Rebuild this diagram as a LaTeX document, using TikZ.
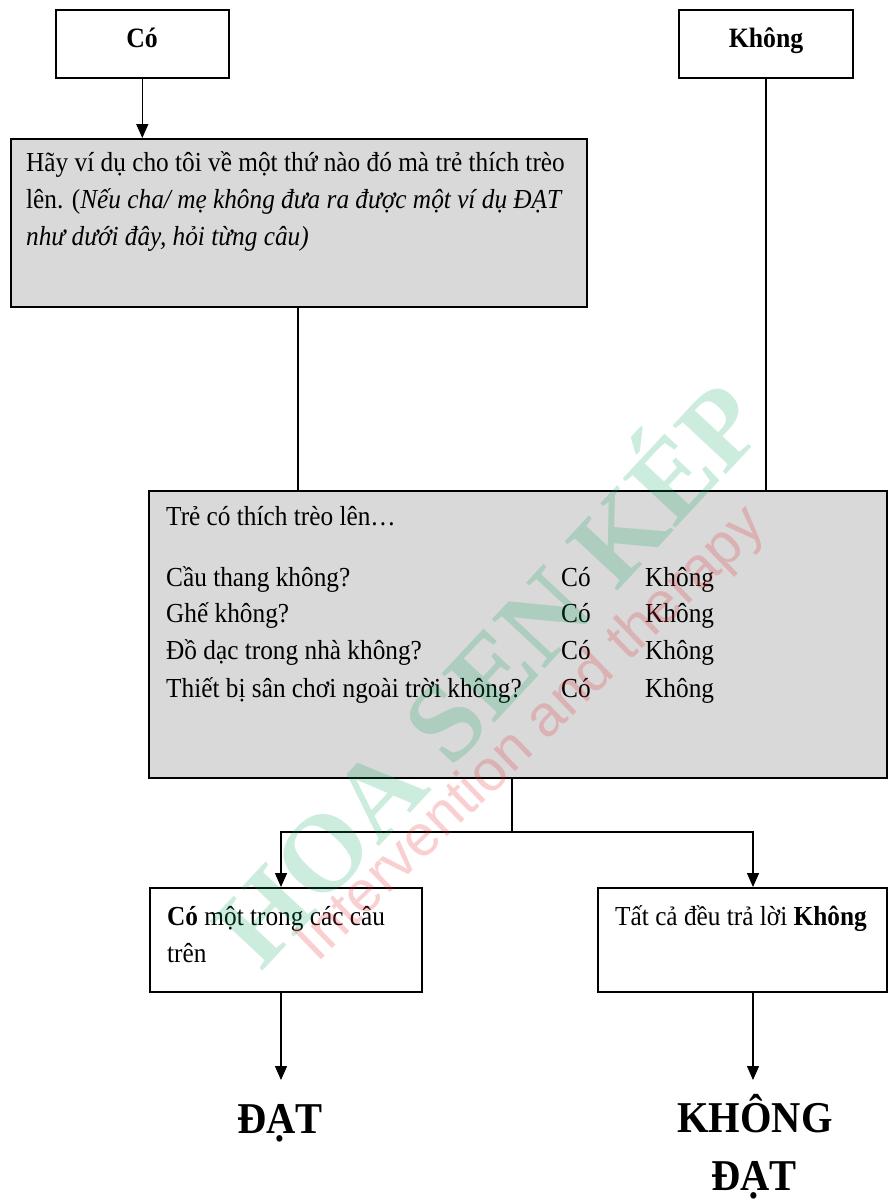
\documentclass[tikz,border=0pt]{standalone}
\usepackage{fontspec}
\setmainfont[FakeStretch=0.92]{Liberation Serif}
\newfontfamily\wmsans{Liberation Sans}
\newfontfamily\wmserif{Liberation Serif}
\usetikzlibrary{arrows.meta}
\definecolor{boxgray}{RGB}{217,217,217}
\definecolor{wmgreen}{RGB}{0,160,90}
\definecolor{wmred}{RGB}{230,40,50}
\begin{document}
\begin{tikzpicture}[x=1pt,y=-1pt,
  frame/.style={draw=black,line width=1.6pt,anchor=north west,inner sep=0pt},
  graybox/.style={frame,fill=boxgray},
  wire/.style={line width=1.4pt},
  arr/.style={wire,-{Triangle[length=14pt,width=12pt]}},
  body/.style={anchor=base west,inner sep=0pt,font=\fontsize{27.5}{37}\selectfont},
  title/.style={anchor=base,inner sep=0pt,font=\bfseries\fontsize{28}{30}\selectfont},
  big/.style={anchor=base,inner sep=0pt,font=\bfseries\fontsize{44}{58}\selectfont},
]
\useasboundingbox[fill=white] (0,0) rectangle (888,1200);

% boxes
\node[frame,minimum width=173pt,minimum height=68pt] (co) at (55,9) {};
\node[frame,minimum width=174pt,minimum height=68pt] (kh) at (678,9) {};
\node[graybox,minimum width=576pt,minimum height=168pt] (q1) at (10,138) {};
\node[graybox,minimum width=738pt,minimum height=287pt] (q2) at (148,490) {};
\node[frame,minimum width=272pt,minimum height=104pt] (r1) at (149,887) {};
\node[frame,minimum width=289pt,minimum height=104pt] (r2) at (597,887) {};

% titles
\node[title] (tco) at (142,47) {Có};
\node[title] (tkh) at (766,47) {Không};

% box 1 text
\node[body] (l1) at (26,171) {Hãy ví dụ cho tôi về một thứ nào đó mà trẻ thích trèo};
\node[body] (l2) at (26,208) {lên. (\textit{Nếu cha/ mẹ không đưa ra được một ví dụ ĐẠT}};
\node[body] (l3) at (26,245) {\textit{như dưới đây, hỏi từng câu)}};

% box 2 text
\node[body] (m0) at (166,525) {Trẻ có thích trèo lên…};
\node[body] (m1) at (166,586) {Cầu thang không?};
\node[body] (m2) at (166,622) {Ghế không?};
\node[body] (m3) at (166,659) {Đồ dạc trong nhà không?};
\node[body] (m4) at (166,697) {Thiết bị sân chơi ngoài trời không?};
\foreach \yy/\nm in {586/a,622/b,659/c,697/d}{
  \node[body] (c\nm) at (561,\yy) {Có};
  \node[body] (k\nm) at (645,\yy) {Không};
}

% box 3/4 text
\node[body] (n1) at (167,925) {\textbf{Có} một trong các câu};
\node[body] (n2) at (167,962) {trên};
\node[body] (p1) at (615,925) {Tất cả đều trả lời \textbf{Không}};

% results
\node[big] (dat) at (280,1133) {ĐẠT};
\node[big] (khong) at (755,1132) {KHÔNG};
\node[big] (dat2) at (754,1190) {ĐẠT};

% helper coordinates
\coordinate (xa) at (298,0);
\coordinate (jn) at (512,832);
\coordinate (xl) at (281,0);
\coordinate (xr) at (753,0);
\coordinate (e1) at (281,1080);
\coordinate (e2) at (753,1080);

% connectors
\draw[arr] (co.south) -- (co.south |- q1.north);
\draw[wire] (q1.south -| xa) -- (q2.north -| xa);
\draw[wire] (kh.south) -- (kh.south |- q2.north);
\draw[wire] (q2.south -| jn) -- (jn);
\draw[arr] (jn) -| (r1.north -| xl);
\draw[arr] (jn) -| (r2.north -| xr);
\draw[arr] (r1.south -| xl) -- (e1);
\draw[arr] (r2.south -| xr) -- (e2);

% watermark
\node[rotate=47,text=wmgreen,text opacity=0.2,inner sep=0pt,
  font=\wmserif\bfseries\fontsize{110}{112}\selectfont] (wm1) at (482,668) {HOA SEN KÉP};
\node[rotate=44,text=wmred,text opacity=0.22,inner sep=0pt,
  font=\wmsans\fontsize{58}{60}\selectfont] (wm2) at (532,735) {Intervention and therapy};
\end{tikzpicture}
\end{document}
